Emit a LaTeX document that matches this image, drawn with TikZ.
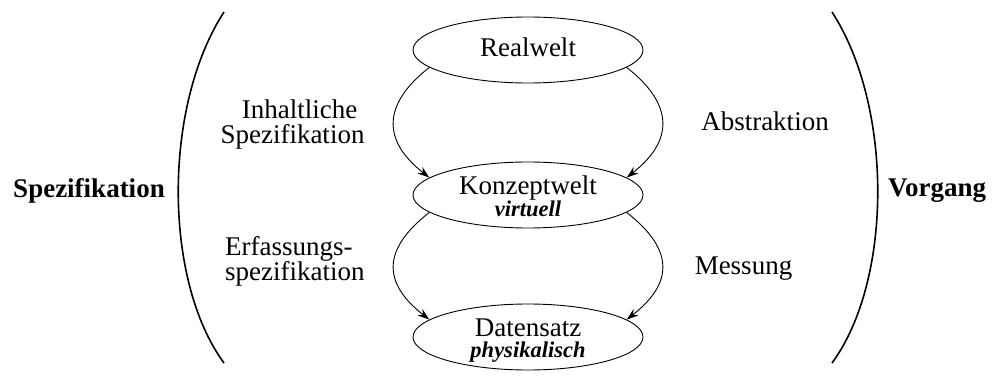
\documentclass[tikz,border=0pt]{standalone}
\usepackage{fontspec}
\setmainfont{Liberation Serif}
\usetikzlibrary{arrows.meta,shapes.geometric}
\tikzset{
  world/.style={draw, ellipse, line width=0.9pt, minimum width=230pt, minimum height=66pt, inner sep=0pt},
  lbl/.style={inner sep=0pt, font=\fontsize{27}{25}\selectfont},
  bigl/.style={inner sep=0pt, font=\fontsize{27}{25}\selectfont\bfseries},
  conn/.style={line width=0.9pt, -{Stealth[length=12pt,width=8pt]}},
  paren/.style={line width=1.6pt}
}
\newcommand{\subl}[1]{{\fontsize{22.5}{22}\selectfont\bfseries\itshape #1}}
\begin{document}
\begin{tikzpicture}[x=1pt,y=1pt]
\useasboundingbox (0,0) rectangle (993,376);
% ellipses
\node[world] (R) at (528,326) {};
\node[world] (K) at (528,181) {};
\node[world] (D) at (528,39) {};
% ellipse texts
\node[lbl] (Rt) at (528,329) {Realwelt};
\node[lbl, align=center] (Kt) at (528,180.2) {Konzeptwelt\\[-3pt]\subl{virtuell}};
\node[lbl, align=center] (Dt) at (528,35.2) {Datensatz\\[-4pt]\subl{physikalisch}};
% connectors
\draw[conn] (R.190) .. controls +(218:60) and +(142:60) .. (K.170);
\draw[conn] (R.350) .. controls +(-38:60) and +(38:60) .. (K.10);
\draw[conn] (K.190) .. controls +(218:60) and +(142:60) .. (D.170);
\draw[conn] (K.350) .. controls +(-38:60) and +(38:60) .. (D.10);
% side labels
\node[lbl, align=center] (inh) at (292.5,251.8) {\hspace*{14pt}Inhaltliche\\Spezifikation};
\node[lbl, align=left, anchor=west] (erf) at (225,115) {Erfassungs-\\spezifikation};
\node[lbl] (abs) at (765,255.2) {Abstraktion};
\node[lbl] (mes) at (743.5,107) {Messung};
% outer labels
\node[bigl] (spez) at (89,185.3) {Spezifikation};
\node[bigl] (vorg) at (937,185.3) {Vorgang};
% parentheses
\draw[paren] (224,364) .. controls (163,270) and (163,96) .. (224,13);
\draw[paren] (832,364) .. controls (893,270) and (893,96) .. (832,13);
\end{tikzpicture}
\end{document}
